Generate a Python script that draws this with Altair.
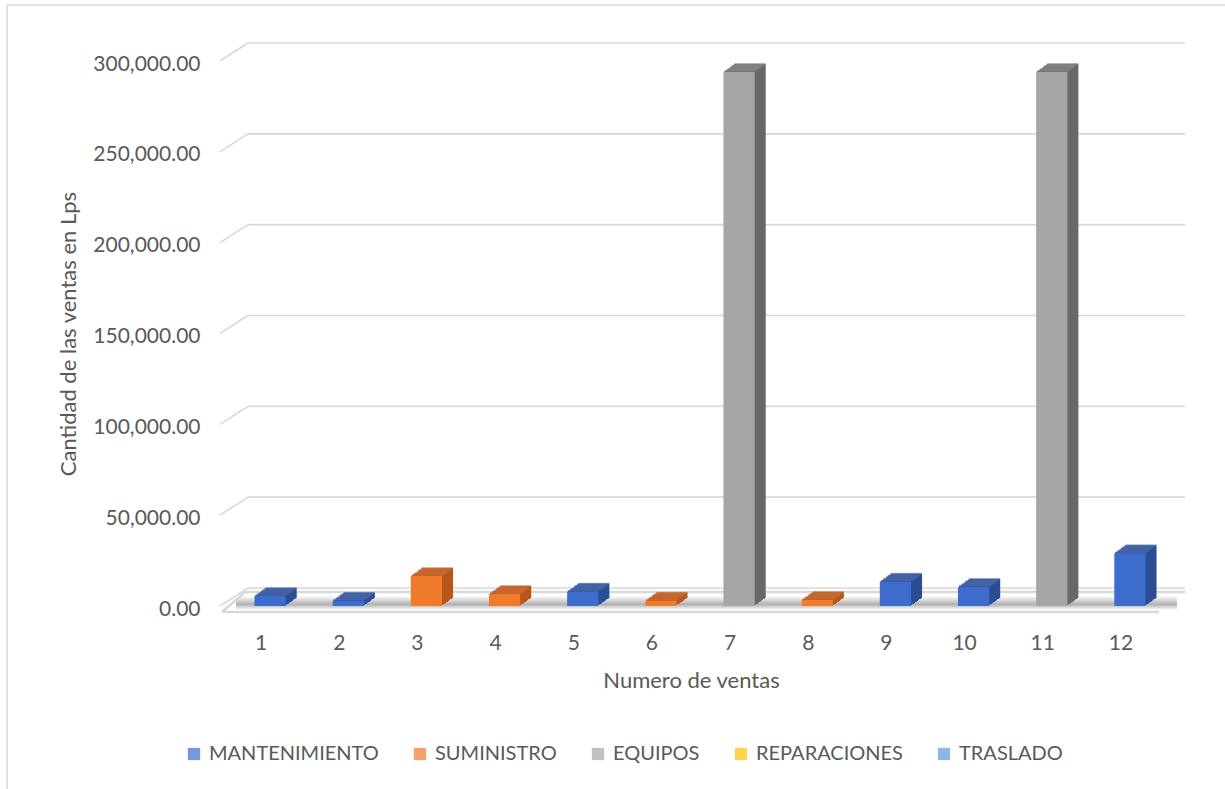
import altair as alt
import pandas as pd

# ---- data ----
numero = ["1", "2", "3", "4", "5", "6", "7", "8", "9", "10", "11", "12"]
serie = ["MANTENIMIENTO", "MANTENIMIENTO", "SUMINISTRO", "SUMINISTRO", "MANTENIMIENTO",
         "SUMINISTRO", "EQUIPOS", "SUMINISTRO", "MANTENIMIENTO", "MANTENIMIENTO",
         "EQUIPOS", "MANTENIMIENTO"]
monto = [5500, 2900, 16500, 6600, 7900, 2900, 294000, 3300, 13400, 10500, 294000, 29000]
series_legend = ["MANTENIMIENTO", "SUMINISTRO", "EQUIPOS", "REPARACIONES", "TRASLADO"]
y_ticks = [0, 50000, 100000, 150000, 200000, 250000, 300000]

df = pd.DataFrame({"numero": numero, "serie": serie, "monto": monto})
grid_df = pd.DataFrame({"v": y_ticks})

# ---- style ----
W, H = 938, 545
FONT = "Lato"
TXT = "#595959"
GRID = "#d9d9d9"
front_colors = ["#3d6dcc", "#f07b2a", "#a6a6a6", "#ffc000", "#5b9bd5"]
side_colors = ["#2b4e94", "#b8561c", "#686868", "#b58800", "#3f74a8"]
top_colors = ["#4a69ab", "#c96b35", "#858585", "#d9a400", "#4f86ba"]
DEPTH_X, DEPTH_Y = 11, 8
FRONT_SHIFT = 9


def color_expr(colors):
    s = "'#000000'"
    for name, c in reversed(list(zip(series_legend, colors))):
        s = f"datum.serie == '{name}' ? '{c}' : ({s})"
    return s


x_scale = alt.Scale(domain=numero, paddingInner=0.6, paddingOuter=0.3)
y_scale = alt.Scale(domain=[0, 300000], nice=False, zero=True)

x_axis = alt.Axis(title="Numero de ventas", labelAngle=0, domain=False, ticks=False,
                  labelPadding=26, titlePadding=17, labelFont=FONT, labelFontSize=21,
                  labelColor=TXT, titleFont=FONT, titleFontSize=22, titleColor=TXT,
                  titleFontWeight="normal", grid=False)
y_axis = alt.Axis(title="Cantidad de las ventas en Lps", values=y_ticks, format=",.2f",
                  grid=False, domain=False, ticks=False, labelPadding=22, labelOffset=3,
                  titlePadding=12, labelFont=FONT, labelFontSize=21, labelColor=TXT,
                  titleFont=FONT, titleFontSize=22, titleColor=TXT,
                  titleFontWeight="normal")

XE = alt.X("numero:N", scale=x_scale, sort=numero, axis=x_axis)
YE = alt.Y("monto:Q", scale=y_scale, axis=y_axis)
YV = alt.Y("v:Q", scale=y_scale, axis=y_axis)

one_row = alt.Chart(grid_df).transform_filter("datum.v == 0")

# chart border (decoration)
border_left = one_row.mark_rule(color=GRID, strokeWidth=1.5).encode(
    x=alt.value(-215), y=alt.value(-56), y2=alt.value(740))
border_top = one_row.mark_rule(color=GRID, strokeWidth=1.5).encode(
    x=alt.value(-215), x2=alt.value(1010), y=alt.value(-56))

# back-wall gridlines
grid_back = alt.Chart(grid_df).mark_rule(color=GRID, strokeWidth=1.6, yOffset=-18).encode(
    y=YV, x=alt.value(26), x2=alt.value(963))
grid_side = alt.Chart(grid_df).mark_rule(color=GRID, strokeWidth=1.6, y2Offset=-18).encode(
    y=YV, y2=alt.Y2("v:Q"), x=alt.value(-2), x2=alt.value(26))

# floor
shadow = alt.Gradient(
    gradient="linear",
    stops=[alt.GradientStop(offset=0, color="#ffffff"),
           alt.GradientStop(offset=0.6, color="#8f8f8f"),
           alt.GradientStop(offset=1, color="#ffffff")],
    x1=0, x2=0, y1=0, y2=1)
floor_shadow = one_row.mark_rect(color=shadow, opacity=0.7, yOffset=-10, y2Offset=4).encode(
    y=YV, y2=alt.Y2("v:Q"), x=alt.value(14), x2=alt.value(955))
floor_front = one_row.mark_rule(color=GRID, strokeWidth=2.5, yOffset=6).encode(
    y=YV, x=alt.value(0), x2=alt.value(937))
floor_back = one_row.mark_rule(color=GRID, strokeWidth=2.5, yOffset=-14).encode(
    y=YV, x=alt.value(23), x2=alt.value(963))
floor_left = one_row.mark_rule(color=GRID, strokeWidth=2.5, yOffset=6, y2Offset=-14).encode(
    y=YV, y2=alt.Y2("v:Q"), x=alt.value(0), x2=alt.value(23))

layers = [border_left, border_top, grid_back, grid_side, floor_shadow,
          floor_front, floor_back, floor_left]

steps = list(range(DEPTH_Y, 0, -1))
# side faces (extruded copies)
for k in steps:
    dx = round(k * DEPTH_X / DEPTH_Y)
    layers.append(
        alt.Chart(df).transform_calculate(c=color_expr(side_colors)).mark_bar(
            xOffset=FRONT_SHIFT + dx, yOffset=-k, y2Offset=-k).encode(
            x=XE, y=YE, color=alt.Color("c:N", scale=None)))
# top faces
for k in steps:
    dx = round(k * DEPTH_X / DEPTH_Y)
    layers.append(
        alt.Chart(df).transform_calculate(c=color_expr(top_colors)).mark_tick(
            orient="horizontal", thickness=1.6, size=31,
            xOffset=FRONT_SHIFT + dx, yOffset=-k).encode(
            x=XE, y=YE, color=alt.Color("c:N", scale=None)))

front = alt.Chart(df).mark_bar(xOffset=FRONT_SHIFT).encode(
    x=XE,
    y=YE,
    color=alt.Color("serie:N",
                    scale=alt.Scale(domain=series_legend, range=front_colors),
                    legend=alt.Legend(orient="none", legendX=-38, legendY=683,
                                      direction="horizontal", title=None, symbolType="square",
                                      symbolSize=150, symbolStrokeWidth=0, labelFont=FONT,
                                      labelFontSize=20, labelColor=TXT, columnPadding=31,
                                      labelOffset=5, labelLimit=0)),
)
layers.append(front)

chart = alt.layer(*layers).properties(
    width=W, height=H,
    autosize=alt.AutoSizeParams(type="none"),
    padding={"left": 222, "top": 61, "right": 65, "bottom": 183},
    background="white",
).configure_view(stroke=None)

chart.save("out.html", embed_options={"renderer": "svg", "actions": False})
